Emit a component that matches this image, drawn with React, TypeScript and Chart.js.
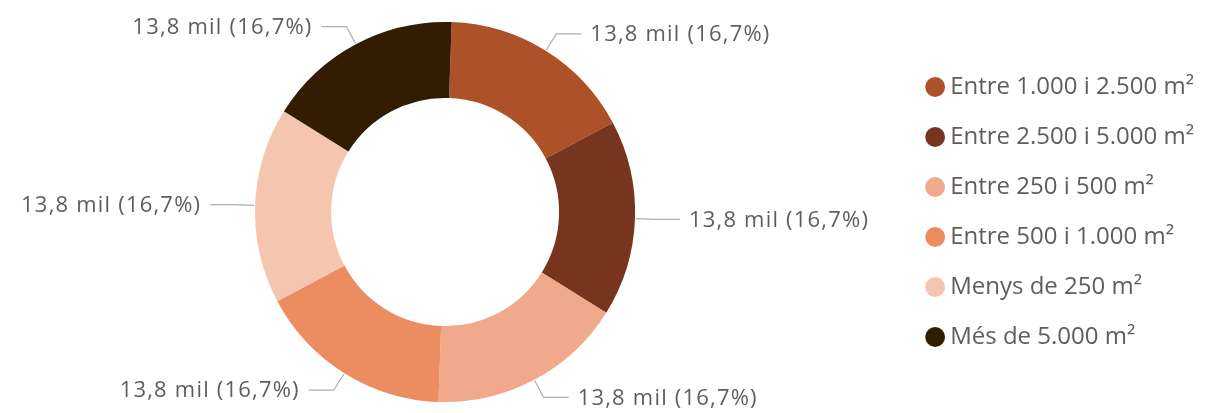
import React, { useEffect, useRef } from "react";
import { Chart, registerables } from "chart.js";

Chart.register(...registerables);

const categories = [
  "Entre 1.000 i 2.500 m²",
  "Entre 2.500 i 5.000 m²",
  "Entre 250 i 500 m²",
  "Entre 500 i 1.000 m²",
  "Menys de 250 m²",
  "Més de 5.000 m²",
];
const values = [13.8, 13.8, 13.8, 13.8, 13.8, 13.8];
const colors = ["#AD5129", "#77341E", "#F0A98A", "#EC8C61", "#F4C5AF", "#321D03"];

const fmt = (n: number) => n.toFixed(1).replace(".", ",");

const outLabels = {
  id: "outLabels",
  afterDatasetsDraw(chart: any) {
    const ctx = chart.ctx;
    const meta = chart.getDatasetMeta(0);
    const data = chart.data.datasets[0].data as number[];
    const total = data.reduce((a, b) => a + b, 0);
    ctx.save();
    meta.data.forEach((arc: any, i: number) => {
      const { x, y, startAngle, endAngle, outerRadius } = arc.getProps(
        ["x", "y", "startAngle", "endAngle", "outerRadius"],
        true
      );
      const mid = (startAngle + endAngle) / 2;
      const c = Math.cos(mid);
      const s = Math.sin(mid);
      const side = c >= 0 ? 1 : -1;
      const x0 = x + c * (outerRadius + 1);
      const y0 = y + s * (outerRadius + 1);
      const x1 = x + c * (outerRadius + 20);
      const y1 = y + s * (outerRadius + 20);
      const x2 = x1 + side * 25;
      ctx.strokeStyle = "#AFAFAF";
      ctx.lineWidth = 1.2;
      ctx.beginPath();
      ctx.moveTo(x0, y0);
      ctx.lineTo(x1, y1);
      ctx.lineTo(x2, y1);
      ctx.stroke();
      const v = data[i];
      const txt = `${fmt(v)} mil (${fmt((v / total) * 100)}%)`;
      ctx.font = "22px 'Open Sans'";
      (ctx as any).letterSpacing = "1.2px";
      ctx.fillStyle = "#605E5C";
      ctx.textBaseline = "middle";
      ctx.textAlign = side > 0 ? "left" : "right";
      ctx.fillText(txt, x2 + side * 9, y1 + 1);
    });
    ctx.restore();
  },
};

export default function App() {
  const ref = useRef<HTMLCanvasElement>(null);
  useEffect(() => {
    if (!ref.current) return;
    const chart = new Chart(ref.current, {
      type: "doughnut",
      data: {
        labels: categories,
        datasets: [
          {
            data: values,
            backgroundColor: colors,
            borderWidth: 0,
          },
        ],
      },
      options: {
        animation: false,
        responsive: true,
        maintainAspectRatio: false,
        rotation: 2,
        cutout: "60%",
        layout: { padding: { top: 22, bottom: 11, left: 0, right: 7 } },
        plugins: {
          tooltip: { enabled: false },
          legend: {
            position: "right",
            align: "center",
            labels: {
              usePointStyle: true,
              pointStyle: "circle",
              boxWidth: 6,
              boxHeight: 14,
              padding: 26,
              color: "#605E5C",
              font: { family: "'Open Sans'", size: 24 },
            },
          },
        },
      },
      plugins: [outLabels],
    });
    return () => chart.destroy();
  }, []);
  return (
    <div style={{ position: "fixed", left: -16, top: 0, width: 1227, height: 413, background: "#fff" }}>
      <canvas ref={ref} />
    </div>
  );
}
